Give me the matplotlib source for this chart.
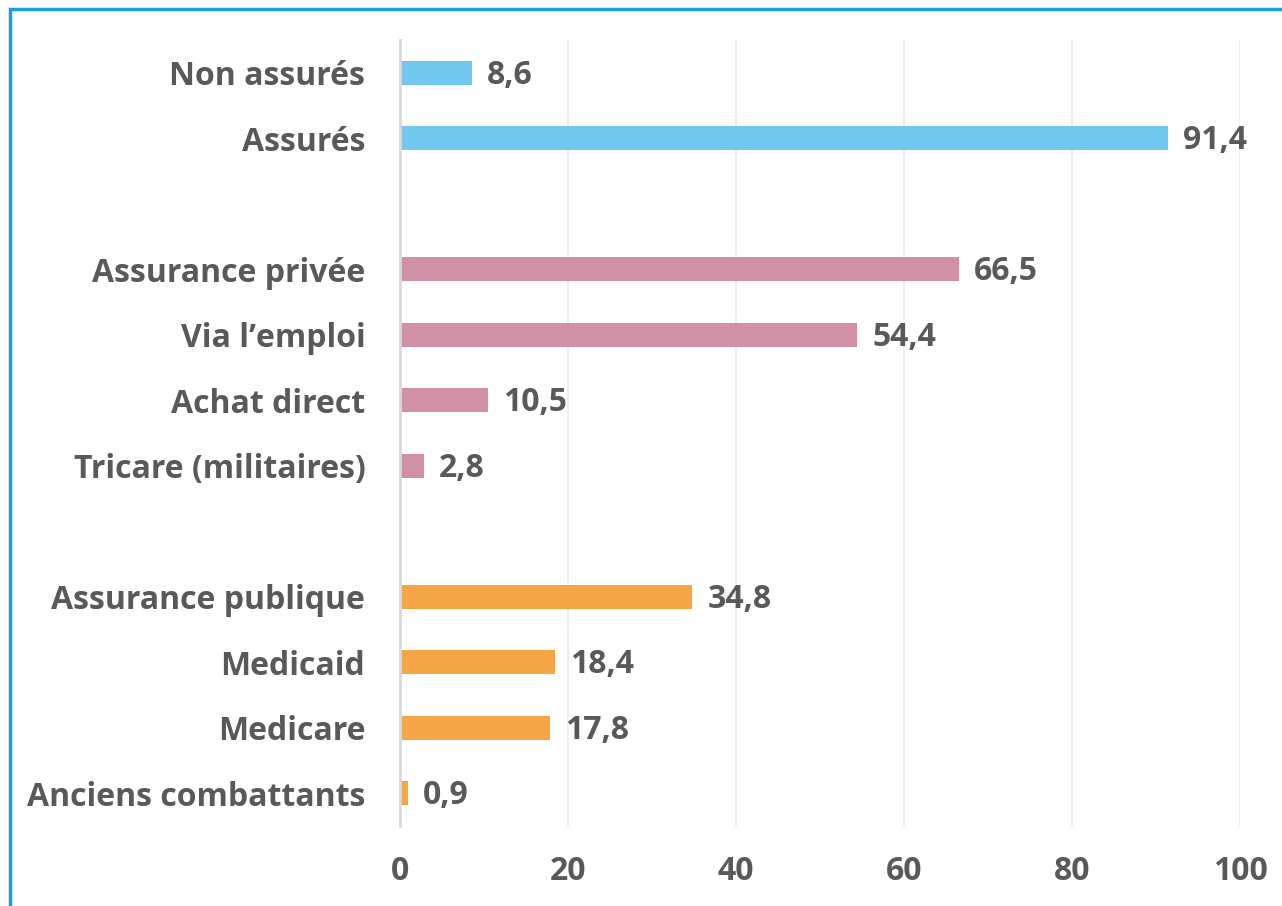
import matplotlib
matplotlib.use("Agg")
import matplotlib.pyplot as plt
from matplotlib.patches import Rectangle

# data
categories = ["Non assurés", "Assurés", "",
              "Assurance privée", "Via l’emploi", "Achat direct",
              "Tricare (militaires)", "",
              "Assurance publique", "Medicaid", "Medicare",
              "Anciens combattants"]
values = [8.6, 91.4, None, 66.5, 54.4, 10.5, 2.8, None,
          34.8, 18.4, 17.8, 0.9]
groups = ["total", "total", None, "private", "private", "private",
          "private", None, "public", "public", "public", "public"]
colors = {"total": "#72C8EE", "private": "#D091A6", "public": "#F4A646"}
xticks = [0, 20, 40, 60, 80, 100]

text_color = "#595959"
plt.rcParams["font.family"] = ["Open Sans", "DejaVu Sans"]
plt.rcParams["font.weight"] = "bold"

fig = plt.figure(figsize=(12.82, 9.06), dpi=100)
ax = fig.add_axes([400 / 1282, 1 - 826 / 906, 840 / 1282, 786 / 906])

for i, (v, g) in enumerate(zip(values, groups)):
    if v is None:
        continue
    ax.barh(i, v, height=0.37, color=colors[g], zorder=3)
    ax.text(v + 1.8, i + 0.04, f"{v:.1f}".replace(".", ","),
            va="center", ha="left", fontsize=23, fontweight="bold",
            color=text_color)

ax.set_xlim(0, 100)
ax.set_ylim(11.5, -0.5)
ax.set_yticks(range(len(categories)))
ax.set_yticklabels(categories)
ax.set_xticks(xticks)
ax.set_xticklabels([str(t) for t in xticks])
ax.tick_params(axis="both", length=0, labelsize=23, labelcolor=text_color)
ax.tick_params(axis="y", pad=25)
ax.tick_params(axis="x", pad=21)
for lab in ax.get_xticklabels() + ax.get_yticklabels():
    lab.set_fontweight("bold")

ax.grid(axis="x", color="#EBEBEB", linewidth=1.2, zorder=0)
for s in ["top", "right", "bottom"]:
    ax.spines[s].set_visible(False)
ax.spines["left"].set_color("#D9D9D9")
ax.spines["left"].set_linewidth(2)
ax.spines["left"].set_zorder(4)

# blue frame around the chart (cut at right and bottom edges)
fig.patches.append(Rectangle((9.5 / 1282, -0.05), 1.1, 1.05 - 9.5 / 906,
                             transform=fig.transFigure, fill=False,
                             edgecolor="#1B9DDB", linewidth=2.5))

fig.savefig("out.png", dpi=100)
